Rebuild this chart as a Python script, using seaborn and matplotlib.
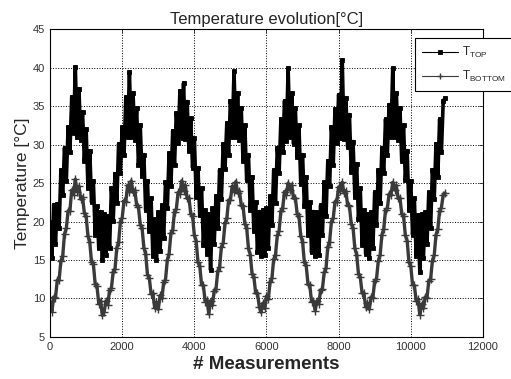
import numpy as np
import pandas as pd
import seaborn as sns
import matplotlib.pyplot as plt

# measurement index, one value every 50 samples
measurements = np.arange(0, 11000, 50)

t_top = [
    # cycle 1
    20.0, 15.2, 22.2, 17.1, 22.3, 19.1, 26.7, 23.4, 29.6, 25.3, 32.3, 29.1, 36.2, 31.5, 40.1,
    31.0, 37.2, 30.6, 34.2, 27.9, 32.0, 24.4, 29.2, 22.5, 25.3, 18.3, 22.0, 16.5, 21.3, 15.0,
    # cycle 2
    21.0, 15.7, 20.7, 16.6, 24.3, 20.1, 26.2, 22.4, 30.1, 26.3, 32.3, 28.6, 36.2, 31.0, 39.4,
    31.0, 36.7, 30.6, 34.7, 27.4, 32.5, 25.9, 28.7, 21.5, 25.3, 18.8, 23.0, 15.5, 20.3,
    # cycle 3
    15.0, 21.2, 16.2, 22.1, 17.8, 25.1, 21.7, 28.9, 24.6, 31.8, 27.3, 34.1, 30.2, 37.0, 30.9,
    38.0, 30.7, 35.6, 29.2, 33.4, 27.0, 30.9, 23.2, 27.0, 20.8, 24.3, 17.0, 21.5, 15.8,
    # cycle 4
    21.0, 13.7, 21.7, 17.1, 23.3, 19.1, 26.7, 22.9, 30.1, 26.8, 32.8, 28.6, 35.7, 31.0, 39.5,
    31.0, 36.7, 30.6, 34.7, 27.9, 32.5, 25.4, 28.7, 21.5, 25.8, 18.8, 22.5, 16.0, 21.3, 15.5,
    # cycle 5
    21.5, 15.7, 21.7, 16.6, 23.3, 19.6, 26.7, 22.4, 29.6, 26.3, 33.3, 29.1, 35.7, 30.5, 39.9,
    31.0, 36.7, 30.1, 34.7, 28.4, 32.5, 24.9, 28.7, 22.0, 25.8, 18.3, 22.5, 16.0, 21.3,
    # cycle 6
    15.5, 21.2, 15.7, 22.1, 18.3, 25.1, 20.7, 27.9, 24.6, 32.3, 27.3, 34.6, 30.2, 36.5, 30.9,
    41.0, 30.7, 36.1, 29.7, 33.9, 26.5, 30.4, 23.2, 27.5, 20.3, 24.3, 17.0, 21.5, 15.8,
    # cycle 7
    21.0, 15.2, 21.2, 16.6, 23.8, 19.6, 26.7, 22.4, 29.6, 26.3, 33.3, 28.6, 35.2, 31.0, 39.9,
    31.0, 36.7, 30.6, 34.7, 27.9, 32.5, 25.4, 29.2, 21.5, 25.3, 18.3, 23.0, 15.5, 20.8, 13.5,
    # last rise
    21.0, 15.2, 21.2, 17.1, 23.8, 19.1, 26.7, 22.9, 30.1, 25.8, 33.3, 29.1, 35.7, 36.0,
]

t_bottom = [
    9.6, 8.3, 10.2, 10.1, 12.4, 12.4, 14.9, 15.5, 18.4, 19.1, 21.4, 21.4, 24.1, 23.5, 25.5,
    23.9, 24.6, 22.9, 23.2, 21.1, 20.7, 18.1, 17.3, 14.7, 14.5, 11.9, 11.6, 9.3, 9.7, 7.8,
    8.3, 9.7, 9.2, 11.1, 11.3, 13.5, 13.8, 16.6, 17.3, 20.0, 20.5, 22.7, 22.6, 24.7, 23.9,
    25.3, 23.8, 24.1, 22.1, 21.9, 19.6, 19.2, 16.6, 15.8, 13.1, 12.7, 10.6, 10.7, 8.8,
    9.5, 8.6, 10.4, 10.0, 12.1, 12.4, 15.0, 15.8, 18.5, 18.9, 21.3, 21.6, 23.8, 23.6, 25.3,
    24.0, 24.7, 23.0, 23.1, 21.0, 20.7, 18.2, 17.5, 14.7, 14.2, 11.8, 11.7, 9.6, 9.8,
    8.0, 9.7, 9.1, 11.0, 11.2, 13.6, 14.1, 16.7, 17.2, 19.8, 20.4, 22.8, 22.8, 24.6, 23.9,
    25.2, 23.7, 24.0, 22.1, 22.0, 19.7, 19.2, 16.5, 15.7, 13.2, 12.8, 10.7, 10.7, 8.9, 8.2,
    9.4, 8.7, 10.3, 9.9, 12.2, 12.6, 15.1, 15.7, 18.2, 18.8, 21.4, 21.8, 23.9, 23.5, 25.0,
    24.1, 24.7, 23.0, 23.1, 21.0, 20.7, 18.1, 17.4, 14.7, 14.3, 11.9, 11.7, 9.6, 9.7,
    8.4, 9.7, 9.3, 11.1, 11.2, 13.4, 13.9, 16.7, 17.4, 20.0, 20.4, 22.6, 22.6, 24.5, 24.0,
    25.1, 23.7, 24.0, 22.1, 22.0, 19.7, 19.2, 16.5, 15.7, 13.2, 12.8, 10.7, 10.7, 8.9,
    9.4, 8.6, 10.2, 10.1, 12.3, 12.5, 14.9, 15.6, 18.3, 19.0, 21.5, 21.7, 23.6, 23.4, 25.1,
    24.1, 24.7, 23.0, 23.1, 21.0, 20.7, 18.2, 17.5, 14.7, 14.2, 11.8, 11.7, 9.7, 9.9, 7.9,
    9.3, 8.7, 10.2, 10.1, 12.3, 12.5, 14.9, 15.6, 18.3, 19.0, 21.4, 21.8, 23.5, 23.7,
]

df = pd.DataFrame({"n": measurements, "top": t_top, "bottom": t_bottom})

sns.set_style("white")
plt.rcParams["font.family"] = ["Liberation Sans", "DejaVu Sans"]
plt.rcParams["mathtext.fontset"] = "custom"
plt.rcParams["mathtext.rm"] = "Liberation Sans"

fig = plt.figure(figsize=(5.11, 3.79), dpi=100)
ax = fig.add_axes([0.098, 0.111, 0.847, 0.812])

sns.lineplot(data=df, x="n", y="top", ax=ax, color="black", lw=2.6,
             marker="s", markersize=2.8, markeredgewidth=0.6, markeredgecolor="black",
             label=r"T$_{\mathrm{TOP}}$")
sns.lineplot(data=df, x="n", y="bottom", ax=ax, color="#3a3a3a", lw=2.4,
             marker="+", markersize=6, markeredgewidth=1.0, markeredgecolor="#3a3a3a",
             label=r"T$_{\mathrm{BOTTOM}}$")

ax.set_xlim(0, 12000)
ax.set_ylim(5, 45)
ax.set_xticks(range(0, 12001, 2000))
ax.set_yticks(range(5, 46, 5))
ax.grid(True, color="black", linestyle=":", linewidth=0.7)
ax.tick_params(direction="in", length=3, labelsize=8, labelcolor="#333333",
               top=True, right=True, width=0.6)
for s in ax.spines.values():
    s.set_color("black")
    s.set_linewidth(0.8)

ax.set_title("Temperature evolution[°C]", fontsize=12, pad=4)
ax.set_xlabel("# Measurements", fontsize=13.5, fontweight="bold", labelpad=3)
ax.set_ylabel("Temperature [°C]", fontsize=12.5, labelpad=2)

leg = ax.legend(loc="upper left", bbox_to_anchor=(415 / 511, 1 - 38 / 379),
                bbox_transform=fig.transFigure, borderaxespad=0,
                fancybox=False, edgecolor="black", framealpha=1, fontsize=8.5,
                handlelength=3.0, handletextpad=0.35, borderpad=0.6, labelspacing=0.75)
leg.get_frame().set_linewidth(0.8)
# thin handles in the legend, like the original
for h, ms in zip(leg.legend_handles, [3, 5]):
    h.set_linewidth(0.8)
    h.set_markersize(ms)

fig.savefig("out.png", dpi=100)
